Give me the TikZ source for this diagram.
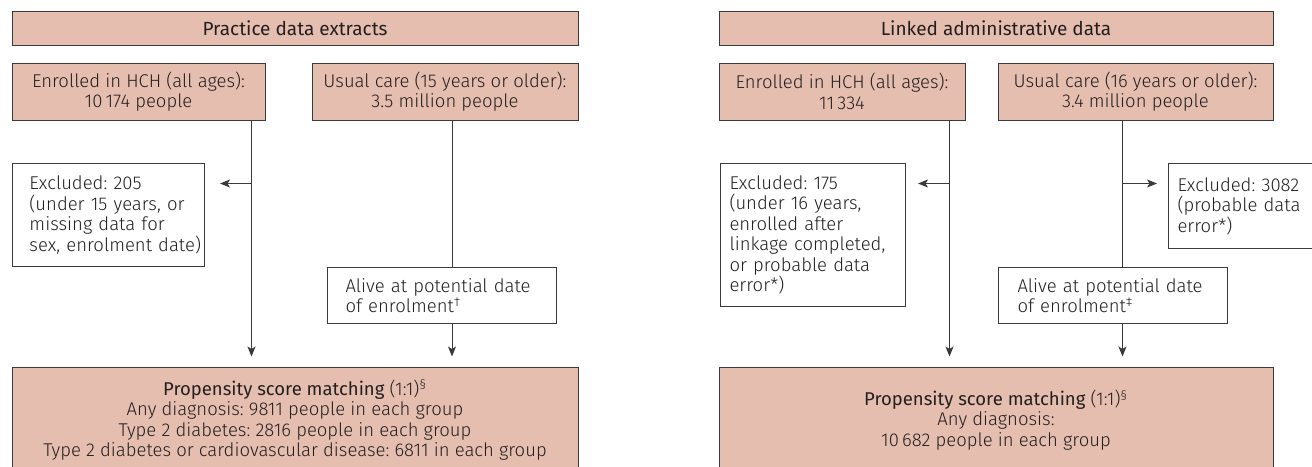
\documentclass[tikz,border=0pt]{standalone}
\usepackage{fontspec}
\setmainfont{Fira Sans Light}
\newfontfamily\headfont{Fira Sans}
\usepackage{tikz}
\usetikzlibrary{arrows.meta}
\definecolor{salmon}{HTML}{E6BEB0}
\definecolor{edge}{HTML}{3A3A3A}
\definecolor{ink}{HTML}{231F20}
\frenchspacing

\begin{document}
\begin{tikzpicture}[x=1pt,y=-1pt,
  every node/.style={text=ink,font=\fontsize{18.5}{20.5}\selectfont},
  head/.style={draw=edge,fill=salmon,line width=1pt,minimum height=34pt,inner sep=0pt,font=\headfont\fontsize{19}{20.5}\selectfont},
  pop/.style={draw=edge,fill=salmon,line width=1pt,inner sep=0pt,align=center},
  note/.style={draw=edge,fill=white,line width=1pt,align=left,inner sep=0pt,anchor=north west},
  pad/.style={execute at begin node={\leftskip=#1}},
  arr/.style={draw=edge,line width=1pt,-{Stealth[length=10pt,width=8pt,inset=2.5pt]}},
  link/.style={draw=edge,line width=1pt}]
\useasboundingbox (0,0) rectangle (1312,466);

% practice data extracts
\node[head,minimum width=566pt] (T1) at (295,28.5) {Practice data extracts};
\node[pop,minimum width=253pt,minimum height=57pt] (E1) at (138.5,91.5) {Enrolled in HCH (all ages):\\10\,174 people};
\node[pop,minimum width=266pt,minimum height=57pt] (U1) at (445,91.5) {Usual care (15 years or older):\\3.5 million people};
\node[note,pad=17pt,text width=192pt,minimum height=103pt] (X1) at (12,163) {Excluded: 205\\(under 15 years, or\\missing data for\\sex, enrolment date)};
\node[note,pad=18pt,text width=229pt,minimum height=56pt] (A1) at (327,267) {Alive at potential date\\of enrolment\textsuperscript{†}};
\node[pop,minimum width=566pt,minimum height=105pt] (P1) at (295,420) {{\headfont Propensity score matching} (1:1)\textsuperscript{§}\\Any diagnosis: 9811 people in each group\\Type 2 diabetes: 2816 people in each group\\Type 2 diabetes or cardiovascular disease: 6811 in each group};

\coordinate (b1) at (251.5,183.5);
\coordinate (a1) at (452,183.5);
\draw[arr] (E1.south -| b1) -- ([yshift=10.5pt]P1.north -| b1);
\draw[arr] (b1) -- ([xshift=15pt]X1.east |- b1);
\draw[link] (U1.south -| a1) -- (A1.north -| a1);
\draw[arr] (A1.south -| a1) -- ([yshift=10.5pt]P1.north -| a1);

% linked administrative data
\node[head,minimum width=554pt] (T2) at (996,28.5) {Linked administrative data};
\node[pop,minimum width=246pt,minimum height=57pt] (E2) at (842,91.5) {Enrolled in HCH (all ages):\\11\,334};
\node[pop,minimum width=275pt,minimum height=57pt] (U2) at (1135.5,91.5) {Usual care (16 years or older):\\3.4 million people};
\node[note,pad=9pt,text width=185pt,minimum height=143pt] (X2) at (720,163) {Excluded: 175\\(under 16 years,\\enrolled after\\linkage completed,\\or probable data\\error*)};
\node[note,pad=9pt,text width=160pt,minimum height=85pt] (X3) at (1168,163) {Excluded: 3082\\(probable data\\error*)};
\node[note,pad=19pt,text width=229pt,minimum height=56pt] (A2) at (998,267) {Alive at potential date\\of enrolment\textsuperscript{‡}};
\node[pop,minimum width=554pt,minimum height=105pt] (P2) at (996,420) {{\headfont Propensity score matching} (1:1)\textsuperscript{§}\\Any diagnosis:\\10\,682 people in each group};

\coordinate (b2) at (949.5,183.5);
\coordinate (a2) at (1122.5,183.5);
\draw[arr] (E2.south -| b2) -- ([yshift=10.5pt]P2.north -| b2);
\draw[arr] (b2) -- ([xshift=12pt]X2.east |- b2);
\draw[link] (U2.south -| a2) -- (A2.north -| a2);
\draw[arr] (a2) -- ([xshift=-11pt]X3.west |- a2);
\draw[arr] (A2.south -| a2) -- ([yshift=10.5pt]P2.north -| a2);
\end{tikzpicture}
\end{document}
